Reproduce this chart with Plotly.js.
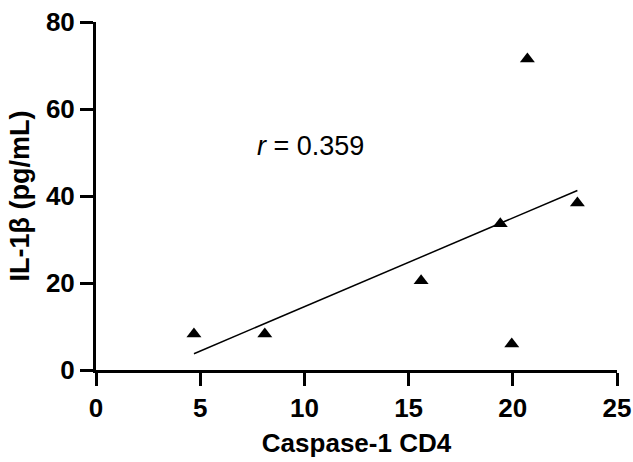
<!DOCTYPE html>
<html>
<head>
<meta charset="utf-8">
<script src="https://cdn.plot.ly/plotly-3.0.1.min.js"></script>
<style>html,body{margin:0;padding:0;background:#fff;}#chart{width:633px;height:462px;}</style>
</head>
<body>
<div id="chart"></div>
<script>
const caspaseCD4 = [4.7, 8.1, 15.6, 19.95, 20.7, 19.4, 23.1];
const il1b = [8.3, 8.3, 20.5, 6.0, 71.5, 33.6, 38.4];
const xTicks = [0, 5, 10, 15, 20, 25];
const yTicks = [0, 20, 40, 60, 80];
const rLabel = "<i>r</i> = 0.359";

// least-squares fit line from the data
const n = caspaseCD4.length;
const mx = caspaseCD4.reduce((a, b) => a + b, 0) / n;
const my = il1b.reduce((a, b) => a + b, 0) / n;
let sxy = 0, sxx = 0;
for (let i = 0; i < n; i++) {
  sxy += (caspaseCD4[i] - mx) * (il1b[i] - my);
  sxx += (caspaseCD4[i] - mx) ** 2;
}
const slope = sxy / sxx;
const icpt = my - slope * mx;
const xmin = Math.min(...caspaseCD4), xmax = Math.max(...caspaseCD4);
const fitX = [xmin, xmax];
const fitY = fitX.map(v => icpt + slope * v);

const font = "Liberation Sans, Arial, Helvetica, sans-serif";

const data = [
  {x: fitX, y: fitY, mode: "lines", line: {color: "#000", width: 1.5}, hoverinfo: "skip", showlegend: false},
  {x: caspaseCD4, y: il1b, mode: "markers", type: "scatter",
   marker: {symbol: "triangle-up", size: 13, color: "#000"}, showlegend: false}
];

const layout = {
  width: 633, height: 462,
  margin: {l: 96, r: 16, t: 22, b: 92},
  paper_bgcolor: "#fff", plot_bgcolor: "#fff",
  font: {family: font, color: "#000"},
  xaxis: {
    range: [0, 25], tickvals: xTicks, ticktext: xTicks.map(v => "<b>" + v + "</b>"),
    showgrid: false, zeroline: false, showline: true, linecolor: "#000", linewidth: 3,
    ticks: "outside", ticklen: 13, tickwidth: 3, tickcolor: "#000",
    tickfont: {family: font, size: 26},
    title: {text: "<b>Caspase-1 CD4</b>", font: {family: font, size: 26}, standoff: 12}
  },
  yaxis: {
    range: [0, 80], tickvals: yTicks, ticktext: yTicks.map(v => "<b>" + v + "</b>"),
    showgrid: false, zeroline: false, showline: true, linecolor: "#000", linewidth: 3,
    ticks: "outside", ticklen: 13, tickwidth: 3, tickcolor: "#000",
    tickfont: {family: font, size: 26},
    title: {text: "<b>IL-1β (pg/mL)</b>", font: {family: font, size: 27}, standoff: 9}
  },
  annotations: [{
    x: 10.3, y: 51.5, xref: "x", yref: "y", text: rLabel, showarrow: false,
    font: {family: font, size: 27, color: "#000"}
  }]
};

Plotly.newPlot("chart", data, layout, {displayModeBar: false, staticPlot: true});
</script>
</body>
</html>
